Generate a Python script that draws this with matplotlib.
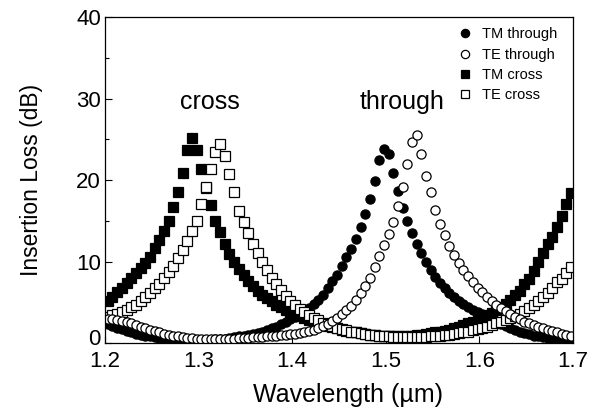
import numpy as np
import matplotlib
matplotlib.use("Agg")
import matplotlib.pyplot as plt
import matplotlib.transforms as mtransforms
from matplotlib.ticker import MultipleLocator

plt.rcParams['font.family'] = ['Liberation Sans', 'DejaVu Sans']

# Wavelength sampling (µm), 5 nm steps
wavelength = np.round(1.203 + 0.005 * np.arange(100), 3)

tm_through = [
    2.3, 2.1, 1.9, 1.7, 1.5, 1.3, 1.15, 1.0, 0.9, 0.8,
    0.7, 0.6, 0.55, 0.5, 0.45, 0.4, 0.4, 0.35, 0.35, 0.35,
    0.35, 0.4, 0.4, 0.45, 0.5, 0.55, 0.6, 0.7, 0.8, 0.9,
    1.0, 1.1, 1.25, 1.4, 1.6, 1.8, 2.0, 2.3, 2.6, 2.9,
    3.25, 3.55, 3.9, 4.3, 4.8, 5.3, 5.9, 6.7, 7.6, 8.4,
    9.4, 10.5, 11.5, 12.7, 14.2, 15.8, 17.7, 19.9, 22.4, 23.8,
    23.2, 20.9, 18.7, 16.6, 15.0, 13.5, 12.2, 11.1, 10.0, 8.9,
    8.1, 7.4, 6.7, 6.1, 5.6, 5.2, 4.8, 4.4, 4.1, 3.8,
    3.5, 3.25, 2.95, 2.65, 2.35, 2.1, 1.8, 1.6, 1.4, 1.2,
    1.05, 0.9, 0.8, 0.7, 0.6, 0.5, 0.45, 0.4, 0.35, 0.3,
]

te_through = [
    3.0, 2.9, 2.8, 2.7, 2.55, 2.4, 2.2, 2.0, 1.8, 1.6,
    1.45, 1.3, 1.15, 1.0, 0.9, 0.8, 0.7, 0.65, 0.6, 0.55,
    0.5, 0.5, 0.5, 0.5, 0.5, 0.5, 0.55, 0.55, 0.6, 0.6,
    0.65, 0.7, 0.7, 0.75, 0.8, 0.85, 0.9, 0.95, 1.0, 1.05,
    1.15, 1.25, 1.35, 1.5, 1.65, 1.85, 2.05, 2.3, 2.65, 3.05,
    3.5, 4.0, 4.6, 5.3, 6.1, 7.0, 8.0, 9.3, 10.7, 12.0,
    13.4, 14.9, 16.8, 19.1, 22.0, 24.7, 25.5, 23.2, 20.5, 18.5,
    16.3, 14.6, 13.2, 11.9, 10.8, 9.8, 9.0, 8.2, 7.5, 6.8,
    6.2, 5.6, 5.1, 4.7, 4.3, 3.9, 3.5, 3.2, 2.9, 2.6,
    2.4, 2.2, 2.0, 1.8, 1.6, 1.45, 1.3, 1.15, 1.0, 0.9,
]

tm_cross = [
    5.2, 5.7, 6.2, 6.8, 7.4, 8.0, 8.6, 9.2, 9.8, 10.6,
    11.6, 12.6, 13.8, 15.0, 16.7, 18.5, 20.9, 23.7, 25.1, 23.7,
    21.4, 19.0, 16.9, 15.0, 13.6, 12.2, 10.9, 9.9, 9.1, 8.3,
    7.6, 7.0, 6.4, 5.9, 5.5, 5.1, 4.7, 4.4, 4.1, 3.8,
    3.55, 3.3, 3.05, 2.85, 2.65, 2.45, 2.3, 2.1, 1.95, 1.8,
    1.65, 1.5, 1.4, 1.3, 1.2, 1.1, 1.0, 0.95, 0.9, 0.85,
    0.8, 0.8, 0.8, 0.8, 0.85, 0.9, 0.95, 1.0, 1.1, 1.2,
    1.3, 1.4, 1.5, 1.65, 1.8, 2.0, 2.2, 2.4, 2.6, 2.85,
    3.1, 3.4, 3.7, 4.0, 4.4, 4.8, 5.3, 5.9, 6.4, 7.2,
    7.9, 8.8, 9.9, 11.1, 12.1, 13.0, 14.2, 15.6, 17.0, 18.4,
]

te_cross = [
    3.2, 3.4, 3.6, 3.8, 4.1, 4.4, 4.7, 5.1, 5.6, 6.1,
    6.7, 7.3, 8.0, 8.7, 9.5, 10.4, 11.4, 12.5, 13.7, 15.0,
    17.0, 19.1, 21.4, 23.4, 24.4, 23.0, 20.7, 18.5, 16.2, 14.8,
    13.5, 12.2, 11.0, 9.9, 8.9, 8.0, 7.2, 6.5, 5.8, 5.2,
    4.7, 4.2, 3.8, 3.4, 3.1, 2.8, 2.5, 2.3, 2.1, 1.9,
    1.7, 1.55, 1.4, 1.3, 1.2, 1.1, 1.0, 0.95, 0.9, 0.85,
    0.8, 0.75, 0.7, 0.7, 0.7, 0.7, 0.7, 0.7, 0.75, 0.8,
    0.85, 0.9, 0.95, 1.0, 1.1, 1.2, 1.3, 1.4, 1.55, 1.7,
    1.85, 2.0, 2.2, 2.4, 2.6, 2.85, 3.05, 3.35, 3.6, 3.9,
    4.3, 4.7, 5.1, 5.6, 6.1, 6.8, 7.5, 7.9, 8.6, 9.3,
]

series_labels = ["TM through", "TE through", "TM cross", "TE cross"]
x_ticks = [1.2, 1.3, 1.4, 1.5, 1.6, 1.7]
y_ticks = [0, 10, 20, 30, 40]

fig = plt.figure(figsize=(5.98, 4.15), dpi=100)
ax = fig.add_axes([0.1756, 0.1735, 0.7826, 0.7855])

ms = 6.6
common = dict(linestyle='none', markeredgecolor='black', markeredgewidth=0.9)
h_tmc, = ax.plot(wavelength, tm_cross, marker='s', markersize=ms,
                 markerfacecolor='black', label=series_labels[2], **common)
h_tmt, = ax.plot(wavelength, tm_through, marker='o', markersize=ms,
                 markerfacecolor='black', label=series_labels[0], **common)
h_tec, = ax.plot(wavelength, te_cross, marker='s', markersize=ms,
                 markerfacecolor='white', label=series_labels[3], **common)
h_tet, = ax.plot(wavelength, te_through, marker='o', markersize=ms,
                 markerfacecolor='white', label=series_labels[1], **common)

ax.set_xlim(1.2, 1.7)
ax.set_ylim(0, 40)
ax.set_xticks(x_ticks)
ax.set_xticklabels([f"{t:.1f}" for t in x_ticks])
ax.set_yticks(y_ticks)
ax.set_yticklabels([str(t) for t in y_ticks])
ax.yaxis.set_minor_locator(MultipleLocator(5))
ax.tick_params(axis='both', which='major', direction='in', length=5,
               width=0.8, labelsize=16)
ax.tick_params(axis='x', which='major', pad=5.5)
ax.tick_params(axis='y', which='major', pad=3)
ax.tick_params(axis='both', which='minor', direction='in', length=3, width=0.8)
for s in ax.spines.values():
    s.set_linewidth(0.9)

# lift the "0" label slightly so it sits clear of the "1.2" below it
zero_label = ax.get_yticklabels()[0]
zero_label.set_transform(zero_label.get_transform() +
                         mtransforms.ScaledTranslation(0, 4 / 72, fig.dpi_scale_trans))

ax.set_xlabel("Wavelength (\u00b5m)", fontsize=18, labelpad=8)
ax.xaxis.label.set_x(0.519)
ax.set_ylabel("Insertion Loss (dB)", fontsize=16.5, labelpad=24)

ax.text(1.3122, 28.7, "cross", fontsize=18, ha='center', va='baseline')
ax.text(1.5173, 28.7, "through", fontsize=18, ha='center', va='baseline')

leg = ax.legend(handles=[h_tmt, h_tet, h_tmc, h_tec], loc='upper left',
                bbox_to_anchor=(0.757, 0.968), borderaxespad=0, borderpad=0,
                frameon=False, fontsize=10.5, handlelength=0.8,
                handletextpad=0.77, labelspacing=0.43, markerscale=0.9)

fig.savefig("out.png", dpi=100)
